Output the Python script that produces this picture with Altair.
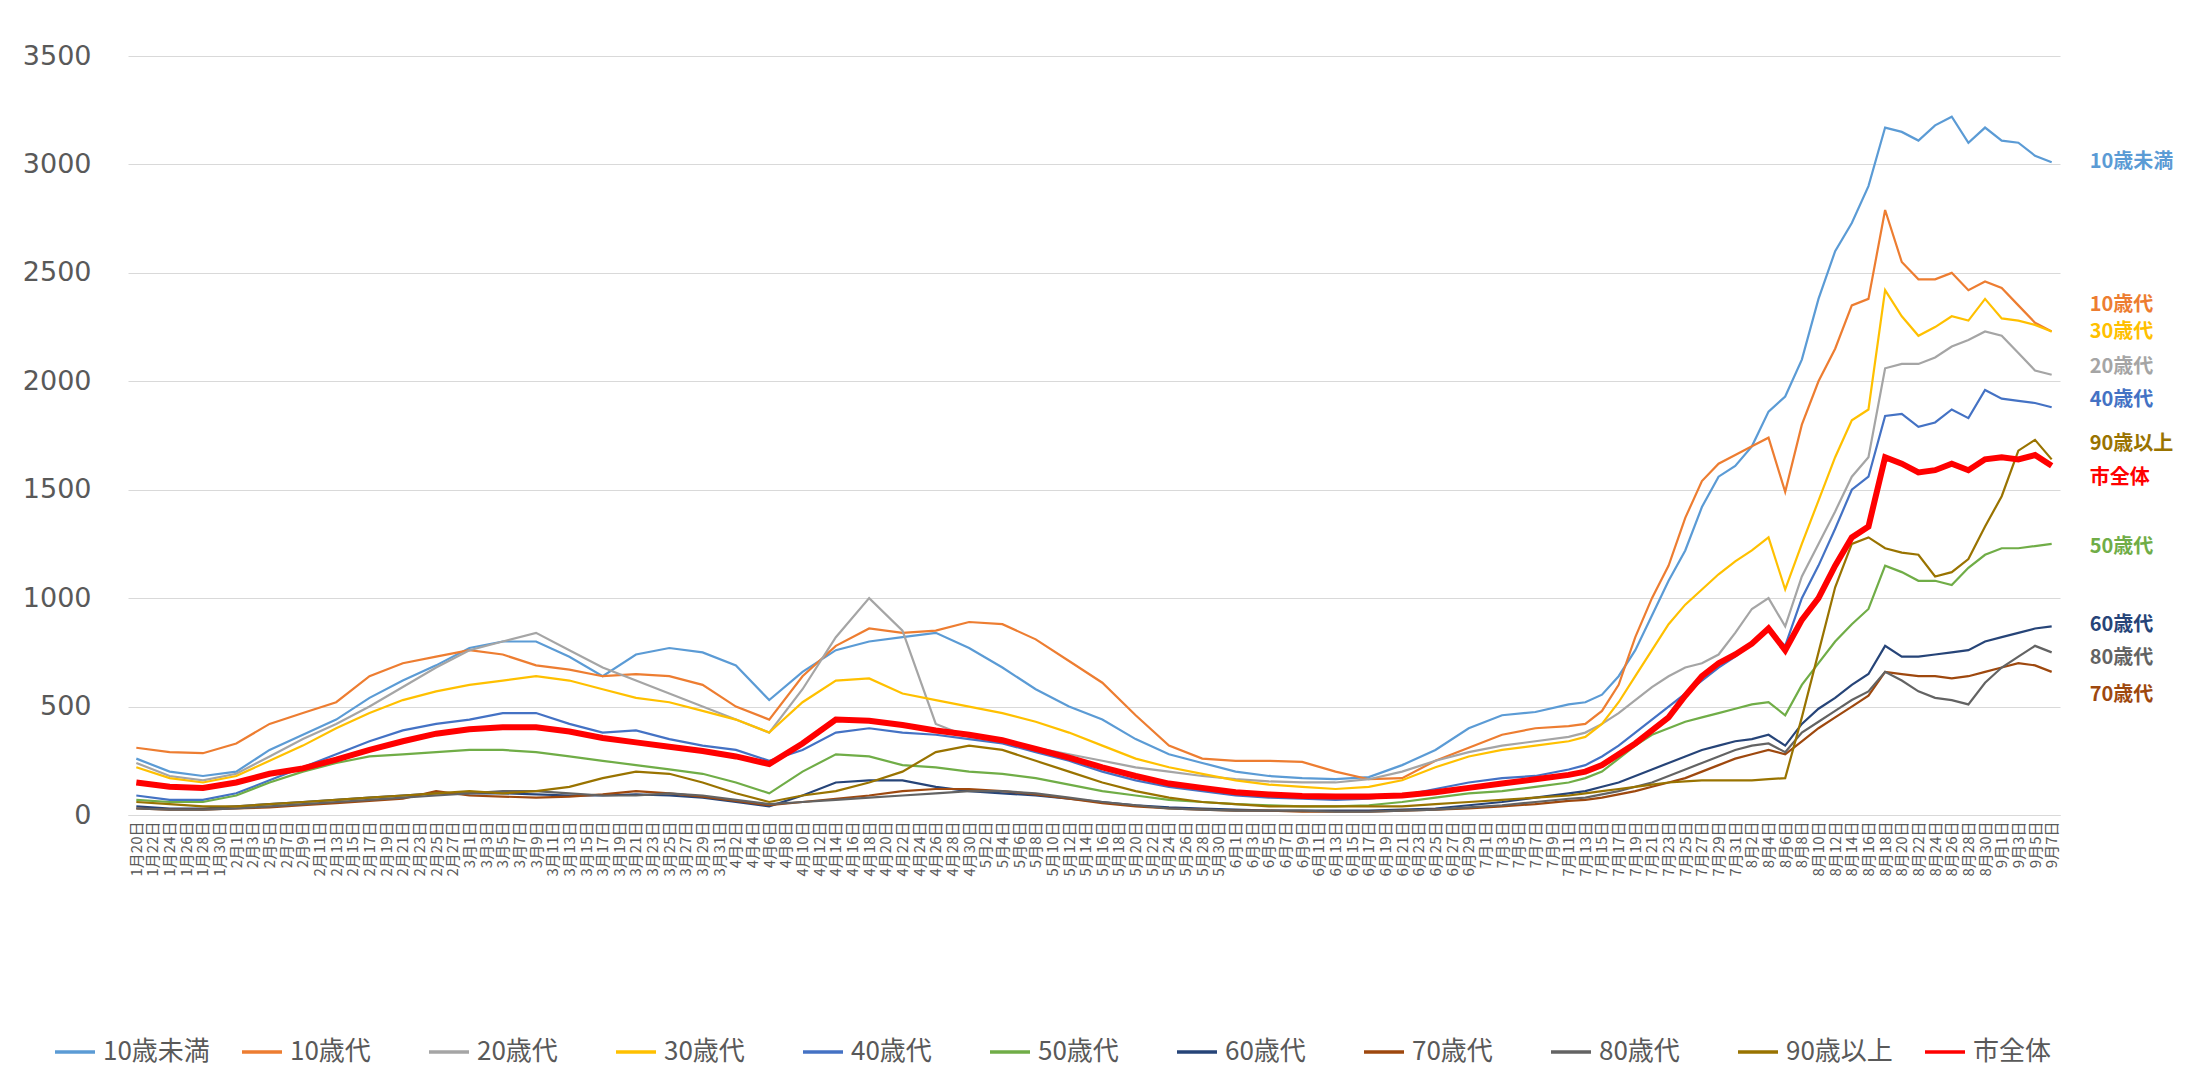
import altair as alt
import pandas as pd

# ---------------- data ----------------
series_names = ["10歳未満", "10歳代", "20歳代", "30歳代", "40歳代", "50歳代",
                "60歳代", "70歳代", "80歳代", "90歳以上", "市全体"]
series_colors = ["#5B9BD5", "#ED7D31", "#A5A5A5", "#FFC000", "#4472C4", "#70AD47",
                 "#264478", "#9E480E", "#636363", "#997300", "#FF0000"]

# sample dates: every 4 days (Jan 20 - Jul 11), then every 2 days (Jul 13 - Sep 7)
dates = [d.strftime("%Y-%m-%d") for d in
         list(pd.date_range("2022-01-20", "2022-07-11", freq="4D")) +
         list(pd.date_range("2022-07-13", "2022-09-07", freq="2D"))]

v_u10 = [260, 200, 180, 200, 300, 370, 440, 540, 620, 690, 770, 800, 800, 730, 640, 740, 770, 750, 690, 530,
         660, 760, 800, 820, 840, 770, 680, 580, 500, 440, 350, 280, 240, 200, 180, 170, 165, 175, 230, 300,
         400, 460, 475, 510,
         520, 555, 640, 760, 920, 1080, 1220, 1420, 1560, 1610, 1700, 1860, 1930, 2100, 2380, 2600, 2730, 2900,
         3170, 3150, 3110, 3180, 3220, 3100, 3170, 3110, 3100, 3040, 3010]
v_10s = [310, 290, 285, 330, 420, 470, 520, 640, 700, 730, 760, 740, 690, 670, 640, 650, 640, 600, 500, 440,
         640, 780, 860, 840, 850, 890, 880, 810, 710, 610, 460, 320, 260, 250, 250, 245, 200, 165, 170, 250,
         310, 370, 400, 410,
         420, 480, 600, 820, 1000, 1150, 1370, 1540, 1620, 1660, 1700, 1740, 1490, 1800, 2000, 2150, 2350, 2380,
         2790, 2550, 2470, 2470, 2500, 2420, 2460, 2430, 2350, 2270, 2230]
v_20s = [240, 180, 160, 190, 270, 350, 420, 500, 590, 680, 760, 800, 840, 760, 680, 620, 560, 500, 440, 380,
         580, 820, 1000, 850, 420, 360, 340, 310, 280, 250, 220, 200, 180, 165, 155, 150, 150, 165, 200, 250,
         290, 320, 340, 360,
         380, 420, 470, 530, 590, 640, 680, 700, 740, 840, 950, 1000, 870, 1100, 1250, 1400, 1560, 1650,
         2060, 2080, 2080, 2110, 2160, 2190, 2230, 2210, 2130, 2050, 2030]
v_30s = [220, 170, 150, 180, 250, 320, 400, 470, 530, 570, 600, 620, 640, 620, 580, 540, 520, 480, 440, 380,
         520, 620, 630, 560, 530, 500, 470, 430, 380, 320, 260, 220, 190, 160, 140, 130, 120, 130, 160, 220,
         270, 300, 320, 340,
         360, 420, 520, 640, 760, 880, 970, 1040, 1110, 1170, 1220, 1280, 1040, 1250, 1450, 1650, 1820, 1870,
         2420, 2300, 2210, 2250, 2300, 2280, 2380, 2290, 2280, 2260, 2230]
v_40s = [90, 70, 70, 100, 160, 220, 280, 340, 390, 420, 440, 470, 470, 420, 380, 390, 350, 320, 300, 250,
         300, 380, 400, 380, 370, 350, 330, 290, 250, 200, 160, 130, 110, 90, 80, 75, 70, 75, 90, 120,
         150, 170, 180, 210,
         230, 270, 320, 380, 440, 500, 560, 620, 680, 730, 790, 850, 780, 1000, 1150, 1320, 1500, 1560,
         1840, 1850, 1790, 1810, 1870, 1830, 1960, 1920, 1910, 1900, 1880]
v_50s = [70, 60, 60, 90, 150, 200, 240, 270, 280, 290, 300, 300, 290, 270, 250, 230, 210, 190, 150, 100,
         200, 280, 270, 230, 220, 200, 190, 170, 140, 110, 90, 70, 60, 50, 45, 40, 40, 45, 60, 80,
         100, 110, 130, 150,
         170, 200, 260, 320, 370, 400, 430, 450, 470, 490, 510, 520, 460, 600, 700, 800, 880, 950,
         1150, 1120, 1080, 1080, 1060, 1140, 1200, 1230, 1230, 1240, 1250]
v_60s = [40, 30, 30, 40, 50, 60, 70, 80, 90, 100, 100, 100, 95, 90, 90, 95, 90, 80, 60, 40,
         90, 150, 160, 160, 130, 110, 100, 90, 75, 60, 45, 35, 30, 25, 20, 20, 20, 20, 25, 30,
         45, 60, 80, 100,
         110, 130, 150, 180, 210, 240, 270, 300, 320, 340, 350, 370, 320, 420, 490, 540, 600, 650,
         780, 730, 730, 740, 750, 760, 800, 820, 840, 860, 870]
v_70s = [30, 25, 25, 30, 35, 45, 55, 65, 75, 110, 90, 85, 80, 85, 95, 110, 100, 85, 65, 45,
         60, 75, 90, 110, 120, 120, 110, 95, 75, 55, 40, 30, 25, 20, 20, 15, 15, 15, 20, 25,
         30, 40, 50, 65,
         70, 80, 95, 110, 130, 150, 170, 200, 230, 260, 280, 300, 280, 340, 400, 450, 500, 550,
         660, 650, 640, 640, 630, 640, 660, 680, 700, 690, 660]
v_80s = [30, 25, 25, 30, 40, 50, 60, 70, 80, 90, 100, 110, 110, 100, 90, 90, 100, 90, 70, 50,
         60, 70, 80, 90, 100, 110, 110, 100, 80, 60, 45, 30, 25, 20, 20, 20, 15, 15, 20, 25,
         35, 45, 60, 75,
         80, 95, 110, 130, 150, 180, 210, 240, 270, 300, 320, 330, 290, 380, 430, 480, 530, 570,
         660, 620, 570, 540, 530, 510, 610, 680, 730, 780, 750]
v_90p = [60, 50, 40, 40, 50, 60, 70, 80, 90, 100, 110, 100, 110, 130, 170, 200, 190, 150, 100, 60,
         90, 110, 150, 200, 290, 320, 300, 250, 200, 150, 110, 80, 60, 50, 40, 40, 40, 40, 40, 50,
         60, 70, 80, 90,
         100, 110, 120, 130, 140, 150, 155, 160, 160, 160, 160, 165, 170, 450, 750, 1050, 1250, 1280,
         1230, 1210, 1200, 1100, 1120, 1180, 1330, 1470, 1680, 1730, 1640]
v_all = [150, 130, 125, 150, 190, 215, 255, 300, 340, 375, 395, 405, 405, 385, 355, 335, 315, 295, 270, 235,
         330, 440, 435, 415, 390, 370, 345, 305, 265, 220, 180, 145, 125, 105, 95, 88, 85, 85, 90, 105,
         125, 145, 165, 185,
         200, 230, 280, 330, 390, 450, 550, 640, 700, 740, 790, 860, 760, 900, 1000, 1150, 1280, 1330,
         1650, 1620, 1580, 1590, 1620, 1590, 1640, 1650, 1640, 1660, 1610]

series_values = [v_u10, v_10s, v_20s, v_30s, v_40s, v_50s, v_60s, v_70s, v_80s, v_90p, v_all]

# right-hand end labels (order and value at which each label sits)
end_label_names = ["10歳未満", "10歳代", "30歳代", "20歳代", "40歳代", "90歳以上",
                   "市全体", "50歳代", "60歳代", "80歳代", "70歳代"]
end_label_values = [3010, 2354, 2225, 2064, 1916, 1709, 1554, 1238, 877, 722, 555]

y_ticks = [0, 500, 1000, 1500, 2000, 2500, 3000, 3500]

# ---------------- tables ----------------
rows = []
for name, vals in zip(series_names, series_values):
    for d, v in zip(dates, vals):
        rows.append({"date": d, "series": name, "value": v})
df = pd.DataFrame(rows)

color_of = dict(zip(series_names, series_colors))
lab_df = pd.DataFrame({
    "date": [dates[-1]] * len(end_label_names),
    "label": end_label_names,
    "value": end_label_values,
    "tcolor": [color_of[n] for n in end_label_names],
})


def ms(s):
    return int(pd.Timestamp(s).value // 10**6)


tick_dates = [ms(d) for d in pd.date_range("2022-01-20", "2022-09-07", freq="2D")]

FONT = "Noto Sans CJK JP"
GREY = "#595959"

x_enc = alt.X(
    "date:T",
    scale=alt.Scale(type="utc", domain=[ms("2022-01-19"), ms("2022-09-08")]),
    axis=alt.Axis(
        title=None, values=tick_dates,
        labelExpr="utcFormat(datum.value, '%-m月%-d日')",
        labelAngle=270, labelFontSize=15, labelColor=GREY, labelFont=FONT,
        ticks=False, grid=False, domainColor="#D9D9D9", domainWidth=1,
        labelPadding=6, labelOverlap=False, labelBound=False, labelFlush=False,
        labelSeparation=0,
    ),
)
y_enc = alt.Y(
    "value:Q",
    scale=alt.Scale(domain=[0, 3500], nice=False),
    axis=alt.Axis(
        title=None, values=y_ticks, format="d", labelFontSize=27, labelColor=GREY,
        labelFont="DejaVu Sans",
        ticks=False, domain=False, gridColor="#D9D9D9", gridWidth=1,
        labelPadding=37, minExtent=115, maxExtent=115,
    ),
)
color_enc = alt.Color(
    "series:N",
    scale=alt.Scale(domain=series_names, range=series_colors),
    legend=alt.Legend(
        title=None, orient="none", legendX=-75, legendY=974,
        direction="horizontal", columns=11, gridAlign="all",
        symbolType="stroke", symbolSize=1600, symbolStrokeWidth=3.5,
        labelFontSize=26, labelColor=GREY, labelFont=FONT,
        columnPadding=25, labelOffset=6, labelLimit=0,
    ),
)

base = alt.Chart(df)
age_lines = base.transform_filter(alt.datum.series != "市全体").mark_line(
    strokeWidth=2.2).encode(x=x_enc, y=y_enc, color=color_enc)
city_line = base.transform_filter(alt.datum.series == "市全体").mark_line(
    strokeWidth=6).encode(x=x_enc, y=y_enc, color=color_enc)

labels = alt.Chart(lab_df).mark_text(
    align="left", baseline="middle", dx=38, fontSize=20, font=FONT, fontWeight="bold"
).encode(
    x=x_enc,
    y=y_enc,
    text="label:N",
    color=alt.Color("tcolor:N", scale=None),
)

chart = alt.layer(age_lines, city_line, labels).properties(
    width=1932, height=759,
    padding={"left": 5, "top": 34, "right": 5, "bottom": 0},
    background="white",
).configure_view(stroke=None).configure_axisX(labelOverlap=False)

chart.save("out.html", embed_options={"renderer": "svg", "actions": False})
